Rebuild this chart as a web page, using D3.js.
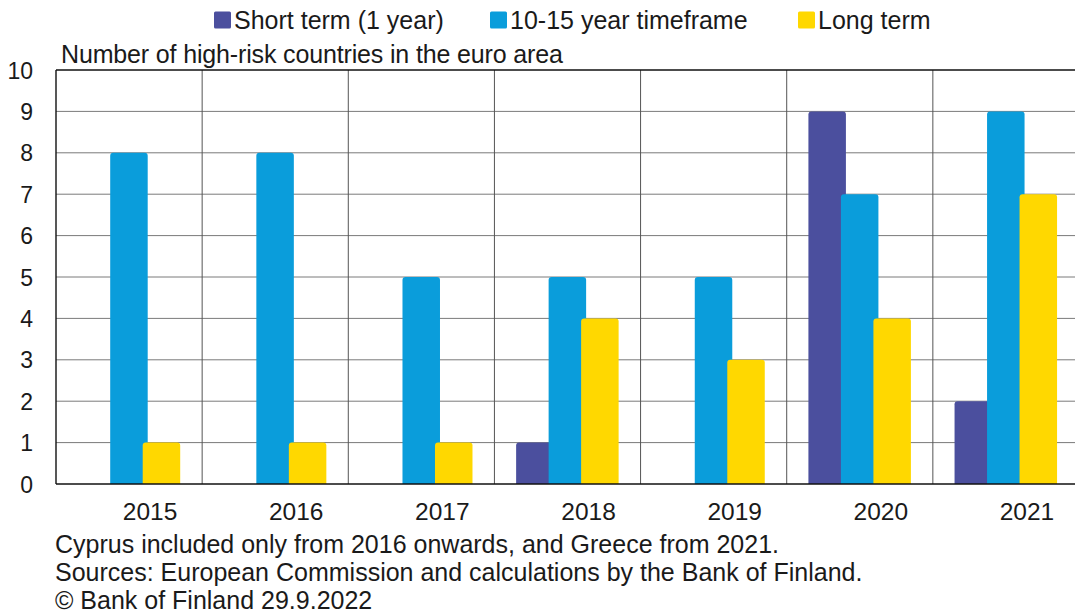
<!DOCTYPE html>
<html>
<head>
<meta charset="utf-8">
<script src="https://cdn.jsdelivr.net/npm/d3@7"></script>
<style>
  body { margin: 0; background: #fff; }
  text { font-family: "Liberation Sans", Arial, sans-serif; fill: #1a1a1a; }
</style>
</head>
<body>
<script>
'use strict';

// categories and series
let years = ["2015", "2016", "2017", "2018", "2019", "2020", "2021"];
let shortTerm = [0, 0, 0, 1, 0, 9, 2];
let midTerm = [8, 8, 5, 5, 5, 7, 9];
let longTerm = [1, 1, 1, 4, 3, 4, 7];
let yTicks = [0, 1, 2, 3, 4, 5, 6, 7, 8, 9, 10];
let seriesNames = ["Short term (1 year)", "10-15 year timeframe", "Long term"];
let notes = [
  "Cyprus included only from 2016 onwards, and Greece from 2021.",
  "Sources: European Commission and calculations by the Bank of Finland.",
  "\u00A9 Bank of Finland 29.9.2022"
];

let colors = ["#4b4f9e", "#0a9ddb", "#ffd800"];

// margin of the chart
let margin = { top: 70, left: 56, bottom: 129, right: -4 };
let width = 1075 - margin.left - margin.right,
  height = 613 - margin.top - margin.bottom;

let svg = d3.select("body")
  .append("svg")
  .attr("width", 1075)
  .attr("height", 613);

let g = svg.append("g")
  .attr("transform", "translate(" + margin.left + "," + margin.top + ")");

// scales
let xScale = d3.scaleBand()
  .domain(years)
  .range([0, width])
  .padding(0);

let yScale = d3.scaleLinear()
  .domain([0, 10])
  .range([height, 0]);

// horizontal gridlines
g.append("g")
  .selectAll("line")
  .data(yTicks.slice(1, -1))
  .enter()
  .append("line")
  .attr("x1", 0)
  .attr("x2", width)
  .attr("y1", d => yScale(d))
  .attr("y2", d => yScale(d))
  .attr("stroke", "#7a7a7a")
  .attr("stroke-width", 1);

// vertical category separators
g.append("g")
  .selectAll("line")
  .data(years.slice(1))
  .enter()
  .append("line")
  .attr("x1", d => xScale(d))
  .attr("x2", d => xScale(d))
  .attr("y1", 0)
  .attr("y2", height)
  .attr("stroke", "#555")
  .attr("stroke-width", 1);

// bars: three series, overlapping slightly, last one on top
let barW = 37.5;
let step = 32.5;
let inner = 21.7;
let series = [shortTerm, midTerm, longTerm];

function topRounded(x, y, w, h, r) {
  if (h <= 0) return "";
  r = Math.min(r, h);
  return "M" + x + "," + (y + h) +
    "V" + (y + r) +
    "Q" + x + "," + y + " " + (x + r) + "," + y +
    "H" + (x + w - r) +
    "Q" + (x + w) + "," + y + " " + (x + w) + "," + (y + r) +
    "V" + (y + h) + "Z";
}

series.forEach((values, s) => {
  g.append("g")
    .selectAll("path")
    .data(values.map((v, i) => ({ year: years[i], value: v })))
    .enter()
    .append("path")
    .attr("d", d => {
      let x = xScale(d.year) + inner + s * step;
      let y = yScale(d.value);
      return topRounded(x, y, barW, height - y, 3);
    })
    .attr("fill", colors[s]);
});

// frame: top, left, bottom
g.append("line")
  .attr("x1", 0).attr("x2", width)
  .attr("y1", 0).attr("y2", 0)
  .attr("stroke", "#111").attr("stroke-width", 1.6);
g.append("line")
  .attr("x1", 0).attr("x2", 0)
  .attr("y1", 0).attr("y2", height)
  .attr("stroke", "#111").attr("stroke-width", 1.4);
g.append("line")
  .attr("x1", 0).attr("x2", width)
  .attr("y1", height).attr("y2", height)
  .attr("stroke", "#111").attr("stroke-width", 1.6);

// y axis labels
let yAxis = d3.axisLeft(yScale)
  .tickValues(yTicks)
  .tickSize(0)
  .tickPadding(23);
g.append("g")
  .call(yAxis)
  .call(a => a.select(".domain").remove())
  .selectAll("text")
  .style("font-size", "23px")
  .attr("dy", "0.35em");

// x axis labels (sit a bit right of the category centre)
let xAxis = d3.axisBottom(xScale)
  .tickSize(0)
  .tickPadding(19);
g.append("g")
  .attr("transform", "translate(21," + height + ")")
  .call(xAxis)
  .call(a => a.select(".domain").remove())
  .selectAll("text")
  .style("font-size", "24.5px");

// title
svg.append("text")
  .attr("x", 61)
  .attr("y", 63)
  .style("font-size", "25px")
  .style("letter-spacing", "-0.15px")
  .text("Number of high-risk countries in the euro area");

// legend
let legendX = [214, 490, 798];
let legend = svg.append("g");
seriesNames.forEach((name, i) => {
  legend.append("rect")
    .attr("x", legendX[i])
    .attr("y", 11.5)
    .attr("width", 17)
    .attr("height", 17)
    .attr("rx", 1.5)
    .attr("fill", colors[i]);
  legend.append("text")
    .attr("x", legendX[i] + 20)
    .attr("y", 28.5)
    .style("font-size", "25px")
    .text(name);
});

// footnotes
svg.selectAll(".note")
  .data(notes)
  .enter()
  .append("text")
  .attr("class", "note")
  .attr("x", 55)
  .attr("y", (d, i) => 553 + i * 28)
  .style("font-size", "25px")
  .text(d => d);
</script>
</body>
</html>
